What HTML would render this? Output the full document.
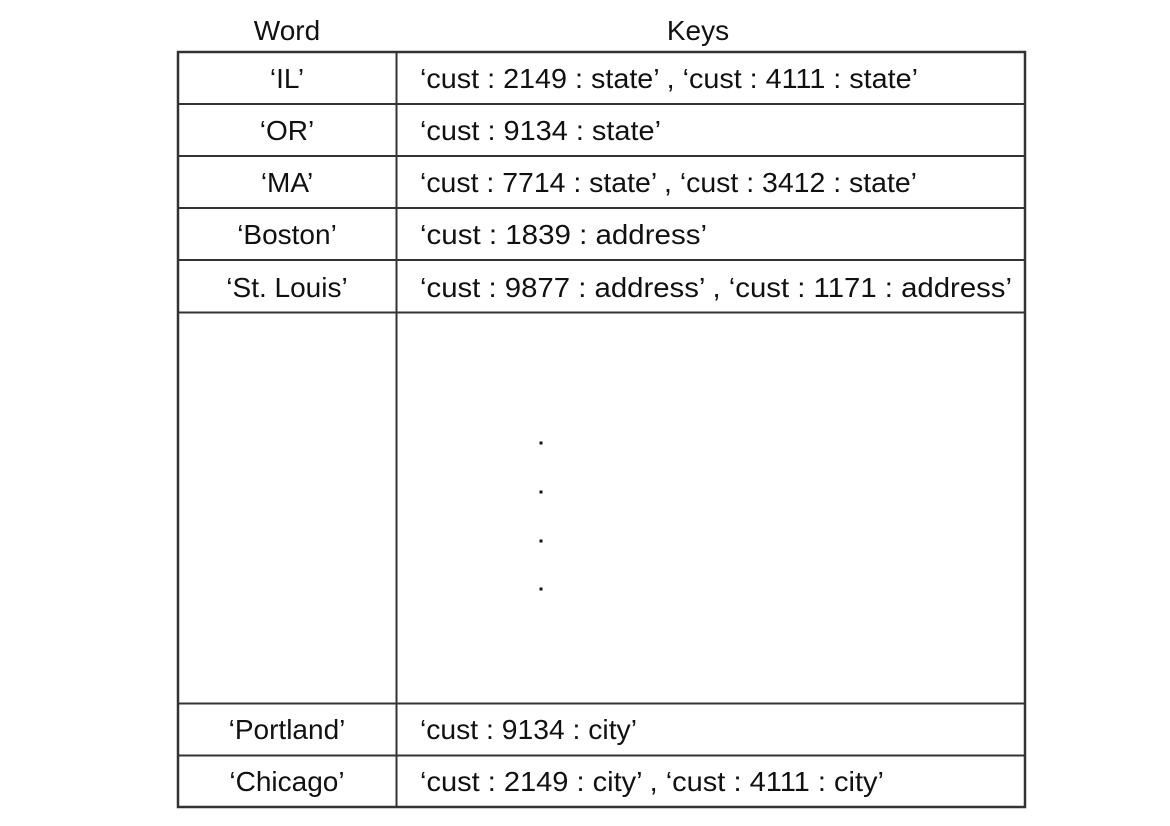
<!DOCTYPE html>
<html><head><meta charset="utf-8"><style>
html,body{margin:0;padding:0;background:#fff;}
svg{display:block;}
text{font-family:"Liberation Sans",Arial,sans-serif;font-size:28px;fill:#111;}
</style></head><body>
<svg width="1170" height="826" viewBox="0 0 1170 826">
<g stroke="#333" stroke-width="2" fill="none">
<rect x="178" y="52" width="847" height="755" stroke-width="2.5"/>
<line x1="396.5" y1="52" x2="396.5" y2="807"/>
<line x1="178" y1="104" x2="1025" y2="104"/>
<line x1="178" y1="156" x2="1025" y2="156"/>
<line x1="178" y1="208" x2="1025" y2="208"/>
<line x1="178" y1="260" x2="1025" y2="260"/>
<line x1="178" y1="312.5" x2="1025" y2="312.5"/>
<line x1="178" y1="703.5" x2="1025" y2="703.5"/>
<line x1="178" y1="755.5" x2="1025" y2="755.5"/>
</g>
<g fill="#111">
<rect x="539.5" y="441.5" width="3" height="3"/>
<rect x="539.5" y="490.5" width="3" height="3"/>
<rect x="539.5" y="539.5" width="3" height="3"/>
<rect x="539.5" y="587.5" width="3" height="3"/>
</g>
<text x="287" y="40" text-anchor="middle">Word</text>
<text x="698" y="40" text-anchor="middle">Keys</text>
<g text-anchor="middle">
<text x="287" y="88">‘IL’</text>
<text x="287" y="140">‘OR’</text>
<text x="287" y="192">‘MA’</text>
<text x="287" y="244">‘Boston’</text>
<text x="287" y="297">‘St. Louis’</text>
<text x="287" y="739">‘Portland’</text>
<text x="287" y="791">‘Chicago’</text>
</g>
<text x="420" y="88" textLength="498" lengthAdjust="spacingAndGlyphs">‘cust : 2149 : state’ , ‘cust : 4111 : state’</text>
<text x="420" y="140" textLength="241" lengthAdjust="spacingAndGlyphs">‘cust : 9134 : state’</text>
<text x="420" y="192" textLength="497" lengthAdjust="spacingAndGlyphs">‘cust : 7714 : state’ , ‘cust : 3412 : state’</text>
<text x="420" y="244" textLength="287" lengthAdjust="spacingAndGlyphs">‘cust : 1839 : address’</text>
<text x="420" y="297" textLength="592" lengthAdjust="spacingAndGlyphs">‘cust : 9877 : address’ , ‘cust : 1171 : address’</text>
<text x="420" y="739" textLength="217" lengthAdjust="spacingAndGlyphs">‘cust : 9134 : city’</text>
<text x="420" y="791" textLength="464" lengthAdjust="spacingAndGlyphs">‘cust : 2149 : city’ , ‘cust : 4111 : city’</text>
</svg>
</body></html>
